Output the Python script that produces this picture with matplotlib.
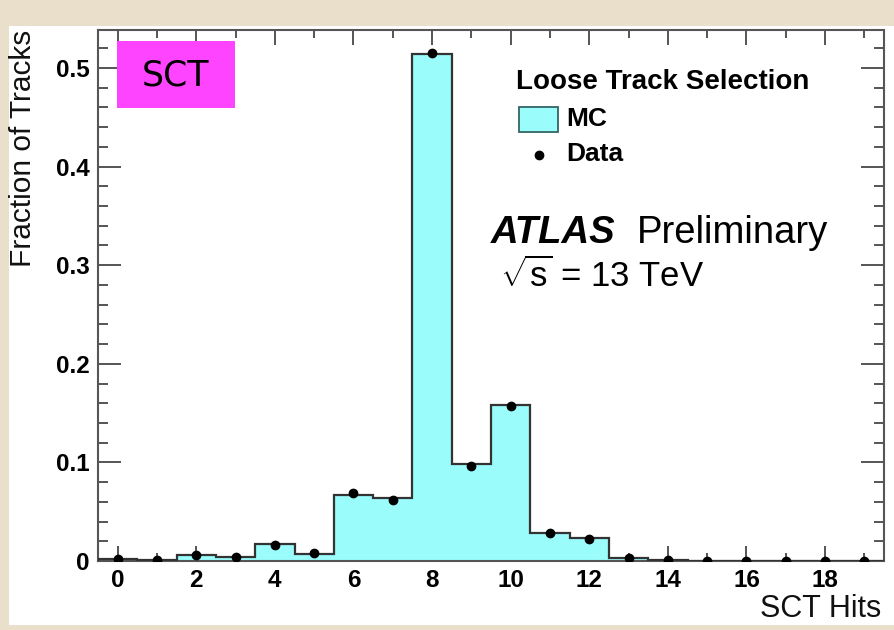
import matplotlib
matplotlib.use('Agg')
import matplotlib.pyplot as plt
from matplotlib.patches import Rectangle
from matplotlib.lines import Line2D
from matplotlib.ticker import MultipleLocator
import numpy as np

# SCT hits per track, fraction of tracks
hits = np.arange(0, 20)
mc = [0.002, 0.001, 0.006, 0.004, 0.017, 0.0075, 0.067, 0.064, 0.514, 0.0985,
      0.158, 0.028, 0.023, 0.0035, 0.001, 0.0005, 0.0003, 0.0002, 0.0001, 0.0001]
data = [0.002, 0.001, 0.006, 0.004, 0.016, 0.008, 0.069, 0.062, 0.5155, 0.0967,
        0.157, 0.028, 0.022, 0.0035, 0.001, 0.0005, 0.0003, 0.0002, 0.0001, 0.0001]
edges = np.arange(-0.5, 20.5, 1.0)

plt.rcParams['font.family'] = ['Liberation Sans', 'DejaVu Sans']
plt.rcParams['mathtext.fontset'] = 'custom'
plt.rcParams['mathtext.rm'] = 'Liberation Sans'
plt.rcParams['mathtext.it'] = 'Liberation Sans:italic'

W, H = 894, 630
fig = plt.figure(figsize=(W / 100, H / 100), dpi=100)
fig.patch.set_facecolor('#e9dfcb')


def fx(px):
    return px / W


def fy(py):
    return 1 - py / H


# white slide panel
fig.add_artist(Rectangle((fx(9), fy(625)), fx(894) - fx(9), fy(26) - fy(625),
                         transform=fig.transFigure, facecolor='white',
                         edgecolor='none', zorder=0))

ax = fig.add_axes([fx(98), fy(561), fx(884) - fx(98), fy(30) - fy(561)])
ax.set_facecolor('white')

# MC histogram and data points
ax.stairs(mc, edges, fill=True, color='#9bfcfc', zorder=2)
ax.stairs(mc, edges, color='#333333', linewidth=1.6, baseline=0, zorder=3)
ax.plot(hits, data, 'o', color='black', markersize=6, zorder=4)

ax.set_xlim(-0.5, 19.5)
ax.set_ylim(0, 0.5385)
ax.xaxis.set_major_locator(MultipleLocator(2))
ax.xaxis.set_minor_locator(MultipleLocator(1))
ax.yaxis.set_major_locator(MultipleLocator(0.1))
ax.yaxis.set_minor_locator(MultipleLocator(0.02))
ax.yaxis.set_major_formatter(lambda v, p: '0' if abs(v) < 1e-9 else f'{v:.1f}')

ax.tick_params(which='both', direction='in', top=True, right=True,
               color='#555555', width=1.4, labelsize=17.5)
ax.tick_params(axis='x', which='major', length=11, pad=6)
ax.tick_params(axis='x', which='minor', length=5.5)
ax.tick_params(axis='y', which='major', length=16.5, pad=6)
ax.tick_params(axis='y', which='minor', length=7.5)
for lab in ax.get_xticklabels() + ax.get_yticklabels():
    lab.set_fontweight('bold')
for sp in ax.spines.values():
    sp.set_color('#555555')
    sp.set_linewidth(1.5)
for t in ax.xaxis.get_major_ticks() + ax.xaxis.get_minor_ticks() + \
        ax.yaxis.get_major_ticks() + ax.yaxis.get_minor_ticks():
    for tl in (t.tick1line, t.tick2line):
        tl.set_zorder(5)

# axis titles, ROOT style at the axis ends
fig.text(fx(23), fy(30), 'Fraction of Tracks', rotation=90, ha='center', va='top',
         fontsize=21.5, color='#111111')
fig.text(fx(881), fy(609), 'SCT Hits', ha='right', va='center', fontsize=22,
         color='#111111')

# legend
fig.text(fx(516), fy(82), 'Loose Track Selection', ha='left', va='center',
         fontsize=20, fontweight='bold')
fig.add_artist(Rectangle((fx(519), fy(132)), fx(558) - fx(519), fy(107) - fy(132),
                         transform=fig.transFigure, facecolor='#9bfcfc',
                         edgecolor='#336666', linewidth=1.3))
fig.text(fx(566), fy(119), 'MC', ha='left', va='center', fontsize=19, fontweight='bold')
fig.add_artist(Line2D([fx(539)], [fy(155)], marker='o', color='black', markersize=6,
                      transform=fig.transFigure))
fig.text(fx(566), fy(154), 'Data', ha='left', va='center', fontsize=19, fontweight='bold')

# ATLAS label
fig.text(fx(491), fy(233), 'ATLAS', ha='left', va='center', fontsize=27.5,
         fontweight='bold', fontstyle='italic')
fig.text(fx(637), fy(233), 'Preliminary', ha='left', va='center', fontsize=27.5)
fig.text(fx(500), fy(276), r'$\sqrt{\mathrm{s}}$ = 13 TeV', ha='left', va='center',
         fontsize=25)

# SCT tag
fig.add_artist(Rectangle((fx(117), fy(108)), fx(235) - fx(117), fy(41) - fy(108),
                         transform=fig.transFigure, facecolor='#ff44ff',
                         edgecolor='none', zorder=6))
fig.text(fx(176), fy(75), 'SCT', ha='center', va='center', fontsize=25,
         family='DejaVu Sans', zorder=7)

fig.savefig('out.png', dpi=100, facecolor=fig.get_facecolor())
